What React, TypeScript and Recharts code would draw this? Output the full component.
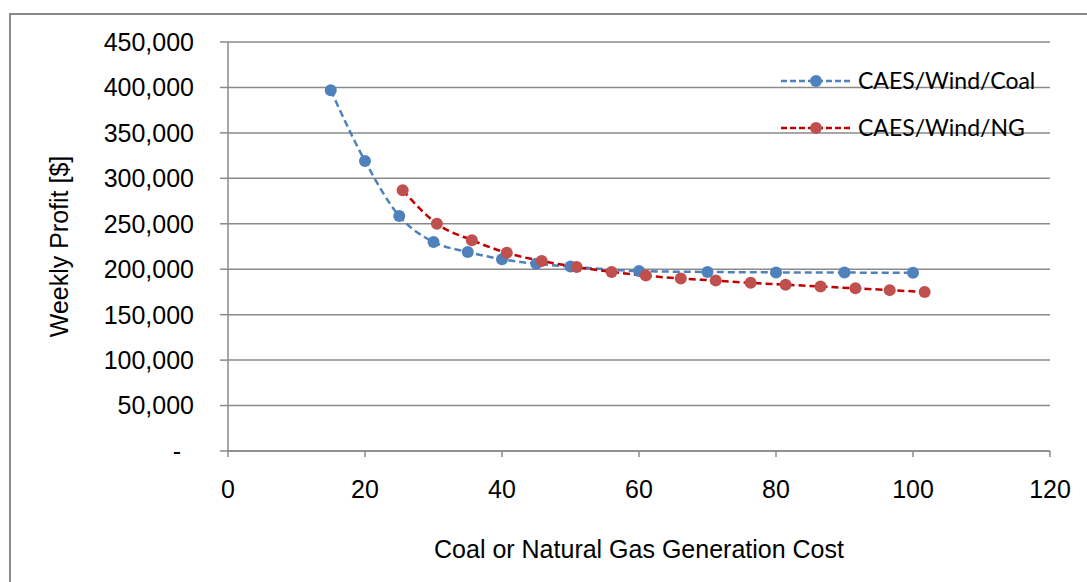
import { LineChart, Line, XAxis, YAxis, CartesianGrid } from "recharts";

const coalCost = [15, 20, 25, 30, 35, 40, 45, 50, 60, 70, 80, 90, 100];
const coalProfit = [
  397000, 319000, 258500, 230000, 219000, 211000, 206000, 203000, 198000,
  197000, 196500, 196300, 196000,
];
const ngCost = [
  25.5, 30.5, 35.6, 40.7, 45.8, 50.9, 56.0, 61.0, 66.1, 71.2, 76.3, 81.4,
  86.5, 91.6, 96.6, 101.7,
];
const ngProfit = [
  287000, 250000, 232000, 218000, 209000, 202500, 197000, 193000, 189700,
  187500, 185000, 183000, 181000, 179000, 177000, 175000,
];
const xTicks = [0, 20, 40, 60, 80, 100, 120];
const yTicks = [0, 50000, 100000, 150000, 200000, 250000, 300000, 350000, 400000, 450000];

const coalData = coalCost.map((x, i) => ({ x, y: coalProfit[i] }));
const ngData = ngCost.map((x, i) => ({ x, y: ngProfit[i] }));

const series = [
  { name: "CAES/Wind/Coal", line: "#4F81BD", marker: "#4F81BD" },
  { name: "CAES/Wind/NG", line: "#C00000", marker: "#C0504D" },
];

const axisFont = "'Liberation Sans', Arial, sans-serif";
const grey = "#8a8a8a";

function makeDot(color: string) {
  return (props: any) => (
    <circle key={props.key ?? props.index} cx={props.cx} cy={props.cy} r={6} fill={color} stroke="none" />
  );
}

function YTick(props: any) {
  const { x, y, payload } = props;
  const v = payload.value as number;
  const text = v === 0 ? "-" : v.toLocaleString("en-US");
  return (
    <text
      x={v === 0 ? x - 13 : x}
      y={y}
      dy="0.355em"
      textAnchor="end"
      fill="#000"
      fontSize={25}
      fontFamily={axisFont}
    >
      {text}
    </text>
  );
}

function LegendBox() {
  return (
    <div
      style={{
        position: "absolute",
        left: 781,
        top: 57,
        fontFamily: "Lato, 'Open Sans', sans-serif",
        fontSize: 23,
        color: "#000",
      }}
    >
      {series.map((s) => (
        <div key={s.name} style={{ display: "flex", alignItems: "center", height: 47 }}>
          <svg width={70} height={14} style={{ display: "block" }}>
            <line x1={0} y1={7} x2={70} y2={7} stroke={s.line} strokeWidth={2.5} strokeDasharray="6 3" />
            <circle cx={35} cy={7} r={6} fill={s.marker} />
          </svg>
          <span style={{ marginLeft: 7, lineHeight: 1 }}>{s.name}</span>
        </div>
      ))}
    </div>
  );
}

export default function App() {
  return (
    <div
      style={{
        position: "fixed",
        left: 0,
        top: 0,
        width: 1087,
        height: 582,
        overflow: "hidden",
        background: "#fff",
      }}
    >
      <div
        style={{
          position: "absolute",
          left: 9,
          top: 13,
          width: 1200,
          height: 700,
          border: `2px solid ${grey}`,
          boxSizing: "border-box",
        }}
      />
      <div style={{ position: "absolute", left: 0, top: 0 }}>
        <LineChart
          width={1087}
          height={582}
          margin={{ top: 42, right: 37, bottom: 0, left: 0 }}
        >
          <CartesianGrid vertical={false} stroke={grey} strokeWidth={1.5} />
          <XAxis
            type="number"
            dataKey="x"
            domain={[0, 120]}
            ticks={xTicks}
            height={131}
            stroke={grey}
            strokeWidth={1.5}
            tickSize={6}
            tickMargin={23}
            tick={{ fill: "#000", fontSize: 25, fontFamily: axisFont }}
            label={{
              value: "Coal or Natural Gas Generation Cost",
              position: "insideBottom",
              offset: 24,
              fill: "#000",
              fontSize: 25,
              fontFamily: axisFont,
            }}
          />
          <YAxis
            type="number"
            domain={[0, 450000]}
            ticks={yTicks}
            width={228}
            stroke={grey}
            strokeWidth={1.5}
            tickSize={8}
            tickMargin={26}
            tick={<YTick />}
            label={{
              value: "Weekly Profit [$]",
              angle: -90,
              position: "insideLeft",
              offset: 59,
              fill: "#000",
              fontSize: 25,
              fontFamily: axisFont,
              style: { textAnchor: "middle" },
            }}
          />
          <Line
            data={coalData}
            dataKey="y"
            name={series[0].name}
            type="monotone"
            stroke={series[0].line}
            strokeWidth={2.5}
            strokeDasharray="7 4"
            dot={makeDot(series[0].marker)}
            activeDot={false}
            isAnimationActive={false}
          />
          <Line
            data={ngData}
            dataKey="y"
            name={series[1].name}
            type="monotone"
            stroke={series[1].line}
            strokeWidth={2.5}
            strokeDasharray="7 4"
            dot={makeDot(series[1].marker)}
            activeDot={false}
            isAnimationActive={false}
          />
        </LineChart>
      </div>
      <LegendBox />
    </div>
  );
}
